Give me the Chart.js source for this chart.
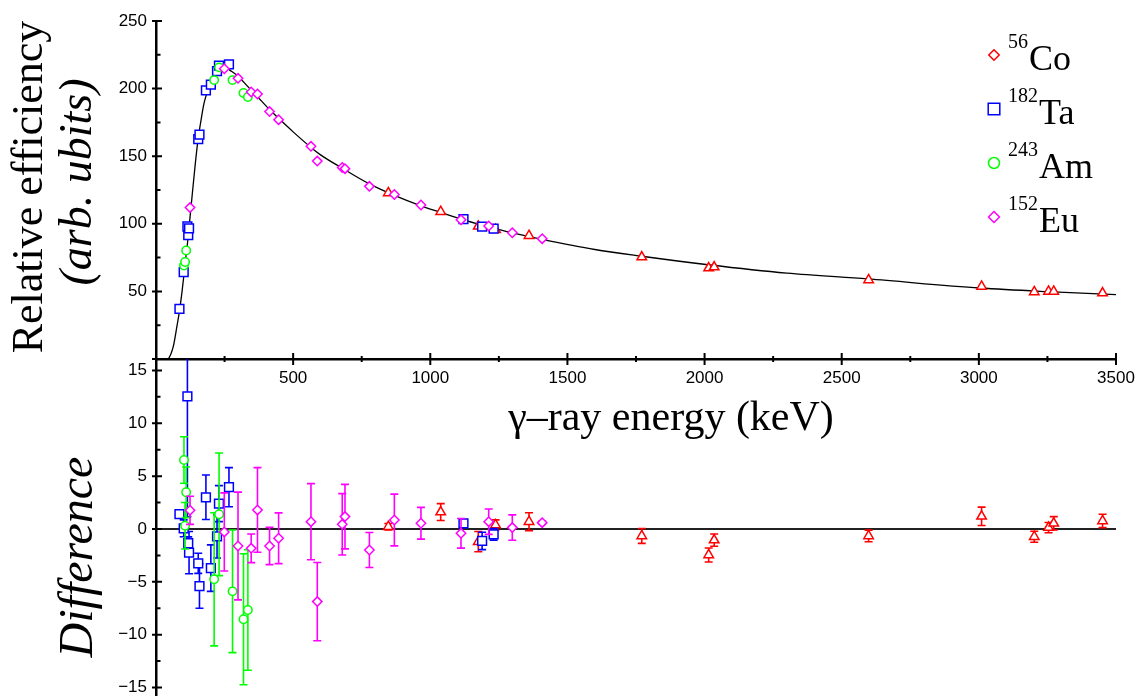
<!DOCTYPE html>
<html><head><meta charset="utf-8">
<script src="https://cdn.jsdelivr.net/npm/chart.js@4"></script>
<style>
html,body{margin:0;padding:0;background:#fff;}
#wrap{position:relative;width:1136px;height:696px;overflow:hidden;}
canvas{position:absolute;left:0;top:0;}
</style></head><body>
<div id="wrap"><canvas id="top" width="1136" height="696"></canvas><canvas id="bot" width="1136" height="696"></canvas></div>
<script>
// ---------- data ----------
const coE    = [847, 1038, 1175, 1238, 1360, 1771, 2015, 2035, 2598, 3010, 3202, 3254, 3273, 3451];
const coEff  = [122.8, 109, 98.1, 95.6, 91.2, 75.4, 67.3, 68.0, 58.5, 53.7, 49.6, 50.0, 50.0, 48.8];
const coDiff = [0.22, 1.6, -1.2, 0.38, 0.69, -0.66, -2.46, -1.05, -0.66, 1.2, -0.73, 0.13, 0.54, 0.76];
const coErr  = [0.3, 0.8, 0.96, 0.48, 0.85, 0.7, 0.66, 0.58, 0.55, 0.87, 0.52, 0.48, 0.63, 0.63];

const taE    = [85.5, 101, 114.5, 117.5, 120.5, 154, 158.5, 182, 200, 222.5, 229.5, 266, 1121, 1189, 1231];
const taEff  = [37, 64.3, 98, 91.7, 96.6, 162.7, 166, 198.7, 203, 213, 217, 218, 103.5, 97.9, 96.4];
const taDiff = [1.4, 0.06, 12.55, -1.35, -2.24, -3.25, -5.4, 3.0, -3.7, -0.7, 2.4, 3.95, 0.54, -1.13, -0.5];
const taErr  = [0.3, 0.8, 11.4, 0.6, 2.0, 0.95, 2.1, 2.1, 2.2, 2.05, 1.7, 1.85, 0.3, 0.82, 0.55];

const amE    = [102, 106, 110, 212, 230, 279, 319, 335];
const amEff  = [69.2, 71.7, 80.3, 206.3, 215.7, 206.3, 196.7, 193.8];
const amDiff = [6.53, 0.3, 3.47, -4.76, 1.39, -5.9, -8.54, -7.66];
const amErr  = [2.2, 2.2, 2.4, 6.3, 5.8, 5.8, 6.2, 5.7];

const euE    = [124, 249, 299, 347, 370, 414, 447, 565, 588, 679, 689, 778, 869, 966, 1112, 1213, 1299, 1408];
const euEff  = [112, 214.7, 207.6, 197.5, 196, 183, 177, 157.3, 146.4, 141.7, 140.8, 127.7, 121.7, 113.9, 103, 98.4, 93.4, 89];
const euDiff = [1.77, -0.28, -1.61, -1.83, 1.8, -1.61, -0.88, 0.69, -6.87, 0.44, 1.17, -1.99, 0.85, 0.54, -0.41, 0.69, 0.13, 0.6];
const euErr  = [1.33, 3.7, 5.1, 1.35, 4.0, 1.76, 2.4, 3.6, 3.7, 2.9, 3.05, 1.65, 2.45, 1.5, 1.4, 1.2, 1.2, 0.15];

const curveE   = [45, 55, 64, 77, 86, 95, 102, 110, 115, 121, 128, 143, 155, 162, 175, 186, 200, 212, 225, 240, 255, 270, 300, 335, 370, 414, 447, 500, 565, 600, 680, 778, 869, 966, 1037, 1112, 1200, 1300, 1408, 1600, 1771, 2013, 2300, 2594, 3004, 3250, 3500];
const curveEff = [0, 4, 10, 25, 36, 50, 62.5, 77.5, 86, 98.5, 113, 144, 165, 174, 189, 197, 206, 211, 214, 215.5, 215.5, 213.5, 209, 201.5, 194, 184.5, 178, 168, 156.5, 151, 141, 129.5, 121, 113.3, 108.5, 103.5, 98.5, 93.3, 88.5, 81, 76, 69.7, 63.5, 59.2, 52.5, 49.8, 47.6];

const xMajor = [0, 500, 1000, 1500, 2000, 2500, 3000, 3500];
const xMinor = [250, 750, 1250, 1750, 2250, 2750, 3250];
const effMajor = [0, 50, 100, 150, 200, 250];
const effMinor = [25, 75, 125, 175, 225];
const diffMajor = [-15, -10, -5, 0, 5, 10, 15];
const diffMinor = [-12.5, -7.5, -2.5, 2.5, 7.5, 12.5];

const seriesNames = ['56Co', '182Ta', '243Am', '152Eu'];

// ---------- helpers ----------
Chart.defaults.font.family = '"Liberation Sans", Arial, sans-serif';
Chart.defaults.font.size = 17;
Chart.defaults.color = '#000';

const pts = (xs, ys) => xs.map((x, i) => ({x: x, y: ys[i]}));
const styles = {
  '56Co':  {color: '#ff0000', pointStyle: 'triangle', r: 5.5, order: 4},
  '182Ta': {color: '#0000ff', pointStyle: 'rect', r: 6.2, order: 3},
  '243Am': {color: '#00ff00', pointStyle: 'circle', r: 4.2, order: 2},
  '152Eu': {color: '#ff00ff', pointStyle: 'rectRot', r: 4.7, order: 1}
};
function mk(name, xs, ys, errs) {
  const s = styles[name];
  return {
    label: name, type: 'scatter', data: pts(xs, ys), errors: errs,
    borderColor: s.color, backgroundColor: '#ffffff', pointStyle: s.pointStyle,
    pointRadius: s.r, pointBorderWidth: 1.5, pointHoverRadius: s.r, order: s.order
  };
}

function setTicks(vals) { return s => { s.ticks = vals.map(v => ({value: v})); }; }
const fmt = v => (v === 0 ? '' : String(v));
const fmtDiff = v => (v < 0 ? '\u2212' + Math.abs(v) : String(v));
const noPad = s => { s.paddingLeft = 0; s.paddingRight = 0; s.paddingTop = 0; s.paddingBottom = 0; };

const tickPlugin = {
  id: 'axisTicks',
  afterDraw(chart, args, o) {
    const ctx = chart.ctx, a = chart.chartArea;
    const xs = chart.scales.x, ys = chart.scales.y;
    ctx.save();
    ctx.strokeStyle = '#000';
    ctx.lineWidth = 2;
    ctx.beginPath();
    (o.yMajor || []).forEach(v => { const p = ys.getPixelForValue(v); ctx.moveTo(a.left - 4, p); ctx.lineTo(a.left + 6, p); });
    (o.yMinor || []).forEach(v => { const p = ys.getPixelForValue(v); ctx.moveTo(a.left - 1, p); ctx.lineTo(a.left + 4.5, p); });
    (o.xMajor || []).forEach(v => { const p = xs.getPixelForValue(v); ctx.moveTo(p, a.bottom - 6); ctx.lineTo(p, a.bottom + 6); });
    (o.xMinor || []).forEach(v => { const p = xs.getPixelForValue(v); ctx.moveTo(p, a.bottom - 3); ctx.lineTo(p, a.bottom + 3); });
    ctx.stroke();
    ctx.restore();
  }
};

const errPlugin = {
  id: 'errBars',
  beforeDatasetDraw(chart, args) {
    const ds = chart.data.datasets[args.index];
    if (!ds.errors) return;
    const ctx = chart.ctx, a = chart.chartArea, ys = chart.scales.y;
    ctx.save();
    ctx.beginPath(); ctx.rect(a.left, a.top, a.right - a.left, a.bottom - a.top); ctx.clip();
    ctx.strokeStyle = ds.borderColor; ctx.lineWidth = 1.6;
    args.meta.data.forEach((el, i) => {
      const v = ds.data[i].y, e = ds.errors[i];
      const x = el.x, y1 = ys.getPixelForValue(v + e), y2 = ys.getPixelForValue(v - e);
      ctx.beginPath();
      ctx.moveTo(x, y1); ctx.lineTo(x, y2);
      ctx.moveTo(x - 4, y1); ctx.lineTo(x + 4, y1);
      ctx.moveTo(x - 4, y2); ctx.lineTo(x + 4, y2);
      ctx.stroke();
    });
    ctx.restore();
  }
};

function drawMarker(ctx, style, r, x, y) {
  ctx.beginPath();
  if (style === 'circle') { ctx.arc(x, y, r, 0, Math.PI * 2); }
  else if (style === 'rect') { const s = r * Math.SQRT1_2; ctx.rect(x - s, y - s, 2 * s, 2 * s); }
  else if (style === 'rectRot') { ctx.moveTo(x, y - r); ctx.lineTo(x + r, y); ctx.lineTo(x, y + r); ctx.lineTo(x - r, y); ctx.closePath(); }
  ctx.fill(); ctx.stroke();
}

const textPlugin = {
  id: 'texts',
  afterDraw(chart) {
    const ctx = chart.ctx;
    ctx.save();
    ctx.fillStyle = '#000';
    ctx.textBaseline = 'alphabetic';
    ctx.textAlign = 'center';
    const rot = (txt, font, x, y) => { ctx.save(); ctx.font = font; ctx.translate(x, y); ctx.rotate(-Math.PI / 2); ctx.fillText(txt, 0, 0); ctx.restore(); };
    rot('Relative efficiency', '44px "Liberation Serif"', 42, 187);
    rot('(arb. ubits)', 'italic 46px "Liberation Serif"', 91, 182);
    rot('Difference', 'italic 48px "Liberation Serif"', 92, 557);
    ctx.font = '42px "Liberation Serif"';
    ctx.fillText('\u03B3\u2013ray energy (keV)', 671, 430);
    const leg = [
      {sup: '56', name: 'Co', color: '#ff0000', style: 'rectRot', r: 5.2},
      {sup: '182', name: 'Ta', color: '#0000ff', style: 'rect', r: 8.2},
      {sup: '243', name: 'Am', color: '#00ff00', style: 'circle', r: 5.5},
      {sup: '152', name: 'Eu', color: '#ff00ff', style: 'rectRot', r: 5.5}
    ];
    ctx.textAlign = 'left';
    leg.forEach((l, i) => {
      const base = 70 + i * 54;
      ctx.strokeStyle = l.color; ctx.fillStyle = '#fff'; ctx.lineWidth = 1.5;
      drawMarker(ctx, l.style, l.r, 994, base - 15);
      ctx.fillStyle = '#000';
      ctx.font = '20px "Liberation Serif"';
      ctx.fillText(l.sup, 1008, base - 22);
      const w = ctx.measureText(l.sup).width;
      ctx.font = '36px "Liberation Serif"';
      ctx.fillText(l.name, 1009 + w, base);
    });
    ctx.restore();
  }
};

const border = {display: true, color: '#000', width: 2.5};
const noGrid = {display: false, drawTicks: false, tickLength: 0};

// ---------- top chart ----------
new Chart(document.getElementById('top'), {
  type: 'scatter',
  data: {datasets: [
    {label: 'fit', type: 'line', data: pts(curveE, curveEff), borderColor: '#000', borderWidth: 1.3,
     pointRadius: 0, cubicInterpolationMode: 'monotone', fill: false, order: 10},
    mk('56Co', coE, coEff),
    mk('182Ta', taE, taEff),
    mk('243Am', amE, amEff),
    mk('152Eu', euE, euEff)
  ]},
  options: {
    responsive: false, animation: false, devicePixelRatio: 1,
    layout: {autoPadding: false, padding: {top: 21, right: 20, left: 0, bottom: 0}},
    plugins: {legend: {display: false}, tooltip: {enabled: false},
      axisTicks: {xMajor: xMajor, xMinor: xMinor, yMajor: effMajor, yMinor: effMinor}},
    scales: {
      x: {type: 'linear', min: 0, max: 3500, grid: noGrid, border: border,
          afterBuildTicks: setTicks(xMajor),
          ticks: {padding: 9, callback: fmt, maxRotation: 0, autoSkip: false},
          afterFit: s => { s.height = 337; noPad(s); }},
      y: {type: 'linear', min: 0, max: 250, grid: noGrid, border: border,
          afterBuildTicks: setTicks(effMajor),
          ticks: {padding: 9, callback: fmt},
          afterFit: s => { s.width = 156; noPad(s); }}
    }
  },
  plugins: [tickPlugin, textPlugin]
});

// ---------- bottom chart ----------
new Chart(document.getElementById('bot'), {
  type: 'scatter',
  data: {datasets: [
    {label: 'zero', type: 'line', data: pts([0, 3500], [0, 0]), borderColor: '#222', borderWidth: 1.8,
     pointRadius: 0, fill: false, order: 10},
    mk('56Co', coE, coDiff, coErr),
    mk('182Ta', taE, taDiff, taErr),
    mk('243Am', amE, amDiff, amErr),
    mk('152Eu', euE, euDiff, euErr)
  ]},
  options: {
    responsive: false, animation: false, devicePixelRatio: 1,
    layout: {autoPadding: false, padding: {top: 359, right: 20, left: 0, bottom: 0}},
    plugins: {legend: {display: false}, tooltip: {enabled: false},
      axisTicks: {yMajor: diffMajor, yMinor: diffMinor}},
    scales: {
      x: {type: 'linear', min: 0, max: 3500, display: false, grid: noGrid,
          afterFit: s => { s.height = 0; noPad(s); }},
      y: {type: 'linear', min: -15.8, max: 16.08, grid: noGrid, border: border,
          afterBuildTicks: setTicks(diffMajor),
          ticks: {padding: 9, callback: fmtDiff},
          afterFit: s => { s.width = 156; noPad(s); }}
    }
  },
  plugins: [tickPlugin, errPlugin]
});
</script>
</body></html>
